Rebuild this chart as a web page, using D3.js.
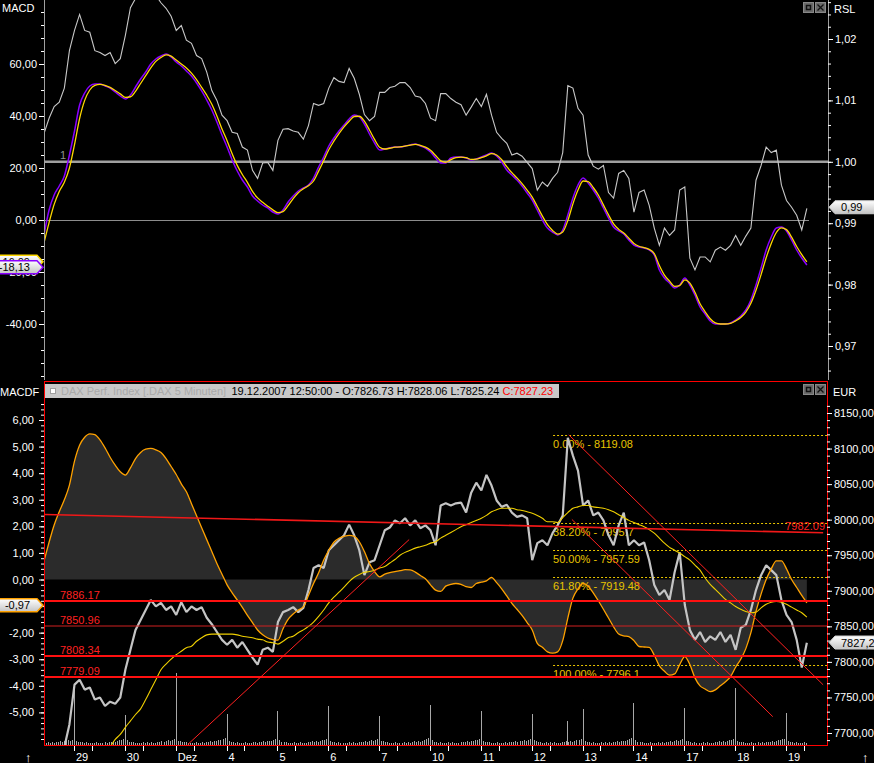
<!DOCTYPE html>
<html><head><meta charset="utf-8">
<script src="https://cdn.jsdelivr.net/npm/d3@7"></script>
<style>
body{margin:0;background:#000;overflow:hidden}
svg{display:block}
text{font-family:"Liberation Sans",Arial,sans-serif;font-size:11px}
</style></head>
<body><svg id="c" width="874" height="763"></svg>
<script>
// ---------- DATA ----------
const tStart = 0.41, tStep = 0.1;   // sample positions in trading-day units (day 1 = 29 Nov)
const dayLabels = ["29","30","Dez","4","5","6","7","10","11","12","13","14","17","18","19"];

const priceValues = [
7660,7660,7660,7665,7680,7712,7768,7775,7761,7764,
7747,7750,7738,7744,7741,7750,7789,7817,7845,7859,
7873,7887,7878,7883,7873,7878,7866,7884,7870,7878,
7873,7877,7862,7853,7842,7831,7824,7831,7820,7828,
7817,7806,7796,7817,7820,7814,7856,7870,7873,7877,
7870,7876,7901,7932,7936,7932,7957,7964,7971,7978,
7993,7978,7957,7922,7940,7943,7964,7985,7989,7999,
7995,8002,7992,7999,7988,7992,7985,7964,8020,8023,
8020,8023,8024,8010,8038,8052,8041,8063,8048,8027,
8018,8021,8010,8004,8006,8002,7943,7967,7971,7964,
7981,7992,8006,8115,8090,8069,8020,8027,8006,8010,
7999,7978,7964,7992,8010,7964,7971,7964,7968,7943,
7908,7894,7901,7887,7926,7954,7880,7845,7831,7842,
7828,7836,7831,7842,7828,7838,7817,7848,7852,7873,
7901,7922,7936,7929,7922,7887,7866,7856,7831,7792,
7827];

const maValues = [
null,null,null,null,null,null,null,null,null,null,
null,null,null,7680,7691,7698,7708,7717,7726,7734,
7747,7761,7775,7789,7797,7804,7810,7815,7820,7822,
7829,7834,7838,7839,7839,7839,7839,7839,7838,7836,
7835,7834,7832,7831,7828,7827,7825,7829,7834,7836,
7841,7845,7850,7856,7864,7873,7883,7891,7898,7905,
7913,7919,7923,7926,7927,7929,7932,7934,7939,7944,
7950,7954,7957,7960,7962,7964,7967,7969,7974,7978,
7982,7986,7990,7993,7996,7999,8002,8006,8011,8014,
8016,8016,8016,8014,8013,8011,8009,8006,8002,7997,
7997,7996,8003,8010,8016,8018,8020,8020,8018,8017,
8016,8014,8011,8007,8003,7999,7996,7993,7990,7986,
7981,7974,7967,7961,7957,7953,7948,7943,7936,7929,
7918,7909,7902,7895,7888,7883,7878,7874,7871,7869,
7870,7876,7881,7884,7885,7884,7881,7877,7873,7869,
7863];

const macdfValues = [
0.7,1.4,2.05,2.55,3.0,3.55,4.45,5.05,5.35,5.48,
5.45,5.25,4.95,4.6,4.3,4.05,3.93,4.2,4.55,4.78,
4.9,4.93,4.88,4.78,4.55,4.25,3.95,3.6,3.3,2.85,
2.4,1.95,1.5,1.05,0.6,0.2,-0.2,-0.5,-0.77,-1.05,
-1.35,-1.62,-1.9,-2.08,-2.2,-2.26,-2.28,-1.85,-1.5,-1.3,
-1.15,-1.03,-0.6,-0.15,0.25,0.73,1.1,1.4,1.55,1.62,
1.66,1.62,1.42,1.05,0.6,0.3,0.1,0.2,0.26,0.3,
0.33,0.37,0.36,0.28,0.15,0.03,-0.2,-0.4,-0.45,-0.25,
-0.18,-0.15,-0.18,-0.27,-0.3,-0.15,-0.1,-0.05,0.08,-0.12,
-0.35,-0.62,-0.9,-1.12,-1.35,-1.62,-1.9,-2.4,-2.55,-2.72,
-2.77,-2.72,-2.3,-1.45,-0.7,-0.35,-0.15,-0.25,-0.5,-0.8,
-1.12,-1.45,-1.78,-2.05,-2.12,-2.15,-2.3,-2.52,-2.54,-2.55,
-2.85,-3.25,-3.45,-3.6,-3.55,-3.2,-2.9,-3.2,-3.7,-4.0,
-4.12,-4.22,-4.15,-4.0,-3.85,-3.65,-3.3,-3.0,-2.6,-2.0,
-1.2,-0.55,0.0,0.4,0.7,0.7,0.4,0.0,-0.3,-0.6,
-0.88];

const rslValues = [
1.0046,1.0071,1.0090,1.0097,1.0120,1.0181,1.0214,1.0240,1.0214,1.0211,
1.0181,1.0178,1.0173,1.0178,1.0160,1.0168,1.0206,1.0251,1.0266,1.0287,
1.0295,1.0287,1.0271,1.0259,1.0250,1.0237,1.0214,1.0222,1.0198,1.0193,
1.0173,1.0168,1.0146,1.0116,1.0100,1.0076,1.0067,1.0048,1.0046,1.0024,
1.0019,0.9986,0.9973,0.9998,0.9999,0.9986,1.0035,1.0053,1.0054,1.0050,
1.0048,1.0037,1.0059,1.0095,1.0092,1.0095,1.0120,1.0137,1.0131,1.0129,
1.0152,1.0136,1.0110,1.0077,1.0067,1.0074,1.0113,1.0113,1.0121,1.0123,
1.0129,1.0129,1.0121,1.0107,1.0105,1.0095,1.0071,1.0067,1.0111,1.0111,
1.0103,1.0097,1.0093,1.0076,1.0089,1.0103,1.0090,1.0110,1.0076,1.0048,
1.0038,1.0030,1.0011,1.0014,1.0009,0.9999,0.9989,0.9954,0.9967,0.9960,
0.9973,0.9983,1.0015,1.0124,1.0120,1.0087,1.0076,1.0011,0.9993,0.9988,
0.9994,0.9950,0.9941,0.9981,0.9986,0.9973,0.9918,0.9950,0.9954,0.9929,
0.9892,0.9864,0.9892,0.9880,0.9889,0.9954,0.9959,0.9843,0.9824,0.9845,
0.9845,0.9837,0.9856,0.9861,0.9856,0.9864,0.9880,0.9864,0.9879,0.9892,
0.9970,0.9994,1.0024,1.0015,1.0019,0.9962,0.9937,0.9926,0.9913,0.9889,
0.9924];

const macdValues = [
-5.77,3.85,9.62,13.08,16.92,25.0,34.23,44.23,48.85,51.54,
52.31,52.31,51.54,50.77,49.23,47.69,46.54,48.08,51.15,54.23,
56.92,60.0,61.92,63.08,63.85,62.69,60.77,59.23,57.31,55.38,
52.69,49.62,46.15,42.31,37.69,32.69,28.08,23.08,18.85,15.38,
12.69,9.23,7.31,5.77,4.62,3.08,2.31,3.85,6.92,9.23,
11.15,12.31,13.46,16.15,20.38,24.23,28.46,31.54,34.23,36.54,
38.85,40.38,39.62,36.92,33.08,29.62,26.92,27.31,27.69,28.08,
28.08,28.46,28.85,29.23,28.46,27.69,26.15,23.85,21.92,21.92,
23.85,24.23,24.23,23.85,23.08,23.46,24.23,25.0,25.77,24.62,
22.31,19.23,17.31,15.38,13.08,10.38,7.69,3.85,0,-3.08,
-4.62,-5.77,-3.85,1.92,8.46,13.46,16.15,14.23,11.54,8.46,
4.62,0.77,-2.69,-4.23,-5.38,-7.69,-9.62,-10.38,-10.77,-11.54,
-13.46,-19.23,-22.31,-24.23,-26.15,-25.0,-22.31,-25.0,-28.85,-33.46,
-36.15,-38.85,-40.0,-40.0,-40.0,-39.62,-38.46,-36.92,-34.62,-30.77,
-25.0,-18.46,-11.54,-6.54,-3.08,-2.69,-4.23,-7.69,-11.54,-14.62,
-17.31];

const signalValues = [
-8.8,-1.0,6.0,11.0,14.5,20.0,29.0,39.0,46.0,50.0,
51.8,52.2,51.8,51.0,49.8,48.5,47.2,47.4,49.5,52.5,
55.5,58.5,61.0,62.5,63.5,63.0,61.5,60.0,58.5,56.5,
54.0,51.0,48.0,44.5,40.0,35.0,30.5,25.5,21.0,17.5,
14.5,11.0,8.5,6.8,5.3,3.9,2.8,3.2,5.5,8.2,
10.5,12.0,13.2,15.0,18.8,22.8,27.0,30.3,33.2,35.8,
38.0,39.8,39.9,38.0,34.6,31.0,28.0,27.3,27.6,28.0,
28.1,28.4,28.8,29.1,28.7,28.0,26.8,24.8,22.8,22.2,
23.2,24.0,24.2,24.0,23.3,23.4,24.0,24.7,25.5,25.0,
23.2,20.5,18.2,16.2,14.0,11.5,8.8,5.2,1.5,-1.8,
-4.0,-5.4,-4.6,-0.2,6.2,11.5,15.0,14.8,12.5,9.6,
5.8,2.0,-1.5,-3.6,-5.0,-7.0,-9.0,-10.1,-10.6,-11.3,
-12.9,-17.5,-21.2,-23.5,-25.5,-25.2,-23.0,-24.3,-27.8,-32.2,
-35.3,-38.0,-39.6,-40.0,-40.0,-39.8,-38.8,-37.5,-35.4,-32.0,
-27.0,-21.0,-14.5,-9.0,-4.8,-3.0,-3.7,-6.6,-10.2,-13.3,
-16.1];

// volume: one digit per 0.04 day, one string per day (day 0 = 28 Nov)
const volumeDays = [
"3333232223223232334344545","0433323222232223233434556","0533322223232322334345456",
"0443332222322323343445567","0433232223222332334344456","0533322232232223343434556",
"0433232222323223334345456","0443322232223232343434567","0533232223232223334344556",
"0433322232223233343445456","0543322323232223343434556","0433232223232323343444567",
"0533322232223232334345456","0443232223232223343434556","0433322232232323334345566",
"04332322232"];
const openVolume = [60,30,72,31,34,39,29,40,34,31,36,42,37,57,32];
const extraVolumeT = [10.69], extraVolumeV = [24];

const supportLevels = [7886.17, 7850.96, 7808.34, 7779.09];
const supportWidths = [2, 1, 2, 2];
const fibPercents = [0, 38.2, 50, 61.8, 100];
const fibValues = [8119.08, 7995.7, 7957.59, 7919.48, 7796.1];
const fibStartT = 10.42;
const trendT0 = [0.41, 3.24, 10.73, 10.79];
const trendP0 = [8007.3, 7684, 8119.3, 8000.3];
const trendT1 = [15.73, 7.59, 15.73, 14.74];
const trendP1 = [7981.5, 7972, 7767.8, 7723];
const trendLabel = "7982.09";

const lastBar = {date:"19.12.2007 12:50:00", o:"7826.73", h:"7828.06", l:"7825.24", c:"7827.23"};
const lastMacd = -18.13, lastSignal = -16.09, lastMacdf = -0.97, lastRsl = 0.9926, lastPrice = 7827.23;

// ---------- SCALES ----------
const svg = d3.select("#c");
const x = d3.scaleLinear().domain([1, 15]).range([74, 786]);
const yMacd = d3.scaleLinear().domain([0, 60]).range([220, 64]);
const yRsl = d3.scaleLinear().domain([0.97, 1.02]).range([346, 39]);
const yMacdf = d3.scaleLinear().domain([0, 6]).range([579.5, 420]);
const yPrice = d3.scaleLinear().domain([7700, 8150]).range([733, 413]);
const yVol = d3.scaleLinear().domain([0, 100]).range([745, 645]);

const fmtC = v => (v < 0 ? "-" : "") + Math.abs(v).toFixed(2).replace(".", ",");
const pts = arr => arr.map((v, i) => ({t: tStart + i * tStep, v}));

const defs = svg.append("defs");
defs.append("clipPath").attr("id","clipTop").append("rect").attr("x",45).attr("y",0).attr("width",783).attr("height",380);
defs.append("clipPath").attr("id","clipBot").append("rect").attr("x",45).attr("y",399).attr("width",782).attr("height",346);
const grad = defs.append("linearGradient").attr("id","boxg").attr("x1",0).attr("y1",0).attr("x2",0).attr("y2",1);
grad.append("stop").attr("offset","0%").attr("stop-color","#ffffff");
grad.append("stop").attr("offset","100%").attr("stop-color","#c4c4c4");

svg.append("rect").attr("width",874).attr("height",763).attr("fill","#000");

// ---------- TOP PANEL ----------
const topG = svg.append("g").attr("clip-path","url(#clipTop)");
topG.append("line").attr("x1",44).attr("x2",828).attr("y1",yRsl(1)).attr("y2",yRsl(1)).attr("stroke","#a0a0a0").attr("stroke-width",2.5);
topG.append("line").attr("x1",44).attr("x2",809).attr("y1",yMacd(0)+0.5).attr("y2",yMacd(0)+0.5).attr("stroke","#8c8c8c");
topG.append("path").datum(pts(rslValues)).attr("fill","none").attr("stroke","#c8c8c8").attr("stroke-width",1.1)
  .attr("d", d3.line().x(d=>x(d.t)).y(d=>yRsl(d.v)));
topG.append("path").datum(pts(macdValues)).attr("fill","none").attr("stroke","#8a00ff").attr("stroke-width",1.5)
  .attr("d", d3.line().curve(d3.curveMonotoneX).x(d=>x(d.t)).y(d=>yMacd(d.v)));
topG.append("path").datum(pts(signalValues)).attr("fill","none").attr("stroke","#ffd800").attr("stroke-width",1.3)
  .attr("d", d3.line().curve(d3.curveMonotoneX).x(d=>x(d.t)).y(d=>yMacd(d.v)));
svg.append("text").attr("x",60).attr("y",159).attr("fill","#909090").text("1");

// axes top
svg.append("line").attr("x1",44.5).attr("x2",44.5).attr("y1",0).attr("y2",380).attr("stroke","#a0a0a0");
svg.append("line").attr("x1",828.5).attr("x2",828.5).attr("y1",0).attr("y2",380).attr("stroke","#a0a0a0");
function styleAxis(g){ g.select(".domain").remove(); g.selectAll("line").attr("stroke","#fff"); g.selectAll("text").attr("fill","#fff").style("font-family","Liberation Sans, Arial").style("font-size","11px"); }
const inTop = s => v => s(v) >= 2 && s(v) <= 378;
const inBot = s => v => s(v) >= 400 && s(v) <= 744;
svg.append("g").attr("transform","translate(44,0)")
  .call(d3.axisLeft(yMacd).tickValues(d3.range(-60, 86, 5).filter(inTop(yMacd))).tickSize(3).tickFormat("")).call(styleAxis);
svg.append("g").attr("transform","translate(44,0)")
  .call(d3.axisLeft(yMacd).tickValues([-40,-20,0,20,40,60]).tickSize(5).tickPadding(2).tickFormat(fmtC)).call(styleAxis);
svg.append("g").attr("transform","translate(828,0)")
  .call(d3.axisRight(yRsl).tickValues(d3.range(0.962, 1.031, 0.002).filter(inTop(yRsl))).tickSize(3).tickFormat("")).call(styleAxis);
svg.append("g").attr("transform","translate(828,0)")
  .call(d3.axisRight(yRsl).tickValues([0.97,0.98,0.99,1.00,1.01,1.02]).tickSize(5).tickPadding(2).tickFormat(fmtC)).call(styleAxis);
svg.append("text").attr("x",2).attr("y",12).attr("fill","#fff").text("MACD");
svg.append("text").attr("x",834).attr("y",13).attr("fill","#fff").text("RSL");

// ---------- BOTTOM PANEL ----------
const botG = svg.append("g").attr("clip-path","url(#clipBot)");
botG.append("path").datum(pts(macdfValues)).attr("fill","#2b2b2b")
  .attr("d", d3.area().x(d=>x(d.t)).y0(yMacdf(0)).y1(d=>yMacdf(d.v)));
// fibonacci
const fibG = botG.append("g");
fibValues.forEach((v,i)=>{
  fibG.append("line").attr("x1",x(fibStartT)).attr("x2",827).attr("y1",Math.round(yPrice(v))+0.5).attr("y2",Math.round(yPrice(v))+0.5)
    .attr("stroke","#e8c400").attr("stroke-dasharray","2,2");
  fibG.append("text").attr("x",x(fibStartT)).attr("y",yPrice(v)+13).attr("fill","#e8c400")
    .text(fibPercents[i].toFixed(2)+"% - "+v);
});
// volume
const vols = [];
volumeDays.forEach((s,d)=>{ for(let i=0;i<s.length;i++){ const t=d+i*0.04; if(t<tStart||t>15.44) continue;
  vols.push({t, v: (i===0 && d>=1) ? openVolume[d-1] : +s[i]}); }});
extraVolumeT.forEach((t,i)=>vols.push({t, v: extraVolumeV[i]}));
botG.append("g").selectAll("line").data(vols).join("line")
  .attr("x1",d=>Math.round(x(d.t))+0.5).attr("x2",d=>Math.round(x(d.t))+0.5)
  .attr("y1",yVol(0)).attr("y2",d=>yVol(d.v)).attr("stroke","#a8a8a8");
// price, MA, MACDF
botG.append("path").datum(pts(priceValues)).attr("fill","none").attr("stroke","#c4c4c4").attr("stroke-width",2.2)
  .attr("stroke-linejoin","bevel")
  .attr("d", d3.line().x(d=>x(d.t)).y(d=>yPrice(d.v)));
botG.append("path").datum(pts(maValues)).attr("fill","none").attr("stroke","#f0d000").attr("stroke-width",1.1)
  .attr("d", d3.line().defined(d=>d.v!=null).curve(d3.curveMonotoneX).x(d=>x(d.t)).y(d=>yPrice(d.v)));
botG.append("path").datum(pts(macdfValues)).attr("fill","none").attr("stroke","#ffa200").attr("stroke-width",1.3)
  .attr("d", d3.line().curve(d3.curveMonotoneX).x(d=>x(d.t)).y(d=>yMacdf(d.v)));
// support / resistance
supportLevels.forEach((v,i)=>{
  const yy = Math.round(yPrice(v));
  botG.append("line").attr("x1",44).attr("x2",827).attr("y1",yy).attr("y2",yy)
    .attr("stroke", supportWidths[i]===2 ? "#ff1010" : "#d02020").attr("stroke-width",supportWidths[i]);
  botG.append("text").attr("x",60).attr("y",yy-2.5).attr("fill","#ff2020").text(v.toFixed(2));
});
trendT0.forEach((t0,i)=>{
  botG.append("line").attr("x1",x(t0)).attr("y1",yPrice(trendP0[i])).attr("x2",x(trendT1[i])).attr("y2",yPrice(trendP1[i]))
    .attr("stroke", i===0 ? "#f01818" : "#ff2020").attr("stroke-width", i===0 ? 1.6 : 1);
});
botG.append("text").attr("x",825).attr("y",530).attr("text-anchor","end").attr("fill","#ff2020").text(trendLabel);

// frame & axes bottom
svg.append("rect").attr("x",44.5).attr("y",381.5).attr("width",783).attr("height",364).attr("fill","none").attr("stroke","#ff0000");
svg.append("g").attr("transform","translate(44,0)")
  .call(d3.axisLeft(yMacdf).tickValues(d3.range(-6.2, 6.81, 0.2).filter(inBot(yMacdf))).tickSize(3).tickFormat("")).call(styleAxis);
svg.append("g").attr("transform","translate(44,0)")
  .call(d3.axisLeft(yMacdf).tickValues([6,5,4,3,2,1,0,-2,-3,-4,-5]).tickSize(5).tickPadding(5).tickFormat(fmtC)).call(styleAxis);
svg.append("g").attr("transform","translate(827,0)")
  .call(d3.axisRight(yPrice).tickValues(d3.range(7680, 8171, 10).filter(inBot(yPrice))).tickSize(3).tickFormat("")).call(styleAxis);
svg.append("g").attr("transform","translate(827,0)")
  .call(d3.axisRight(yPrice).tickValues(d3.range(7700, 8151, 50)).tickSize(5).tickPadding(2).tickFormat(fmtC)).call(styleAxis);
svg.append("text").attr("x",0).attr("y",396).attr("fill","#fff").text("MACDF");
svg.append("text").attr("x",833).attr("y",396).attr("fill","#fff").text("EUR");

// x axis
const dayT = dayLabels.map((d,i)=>i+1);
const tickT = dayT.flatMap(t=>[t, t+0.35]).filter(t=>x(t)<827);
svg.append("g").selectAll("line").data(tickT).join("line")
  .attr("x1",t=>Math.round(x(t))+0.5).attr("x2",t=>Math.round(x(t))+0.5).attr("y1",746).attr("y2",751).attr("stroke","#fff");
svg.append("g").selectAll("text").data(dayLabels).join("text")
  .attr("x",(d,i)=>x(dayT[i])+2).attr("y",761).attr("fill","#fff").text(d=>d);
svg.append("text").attr("x",25).attr("y",762).attr("fill","#fff").style("font-size","13px").text("↑");
svg.append("text").attr("x",862).attr("y",762).attr("fill","#fff").style("font-size","13px").text("↑");

// header bar
svg.append("rect").attr("x",45).attr("y",384).attr("width",514).attr("height",14).attr("fill","#c8c8c8");
svg.append("rect").attr("x",50.5).attr("y",388.5).attr("width",5).attr("height",5).attr("fill","#fff").attr("stroke","#a0a0a0");
svg.append("text").attr("x",61).attr("y",395).attr("fill","#aaaaaa").text("DAX Perf. Index [.DAX  5 Minuten]");
const ht = svg.append("text").attr("x",231.5).attr("y",395).attr("fill","#000");
ht.append("tspan").text(`${lastBar.date} - O:${lastBar.o} H:${lastBar.h} L:${lastBar.l} `);
ht.append("tspan").attr("fill","#ff0000").text(`C:${lastBar.c}`);

// window buttons
function winButtons(y){
  const g = svg.append("g");
  g.append("rect").attr("x",803.5).attr("y",y+0.5).attr("width",10).attr("height",10).attr("fill","#6a6a6a").attr("stroke","#888");
  g.append("rect").attr("x",806.5).attr("y",y+3.5).attr("width",4).attr("height",4).attr("fill","none").attr("stroke","#111").attr("stroke-width",1.5);
  g.append("rect").attr("x",815.5).attr("y",y+0.5).attr("width",10).attr("height",10).attr("fill","#6a6a6a").attr("stroke","#888");
  g.append("path").attr("d",`M817.5,${y+2.5}L823.5,${y+8.5}M823.5,${y+2.5}L817.5,${y+8.5}`).attr("stroke","#111").attr("stroke-width",1.3);
}
winButtons(2); winButtons(384);

// value boxes
function leftBox(yc, stroke, label){
  const h = 13;
  svg.append("path").attr("d",`M-2,${yc-h/2}L37,${yc-h/2}L43,${yc}L37,${yc+h/2}L-2,${yc+h/2}Z`)
    .attr("fill","url(#boxg)").attr("stroke",stroke).attr("stroke-width",1.5);
  svg.append("text").attr("x",30).attr("y",yc+4).attr("text-anchor","end").attr("fill","#000").text(label);
}
function rightBox(yc, stroke, label){
  const h = 13;
  svg.append("path").attr("d",`M876,${yc-h/2}L835,${yc-h/2}L829,${yc}L835,${yc+h/2}L876,${yc+h/2}Z`)
    .attr("fill","url(#boxg)").attr("stroke",stroke).attr("stroke-width",1);
  svg.append("text").attr("x",841).attr("y",yc+4).attr("fill","#000").text(label);
}
leftBox(yMacd(lastSignal), "#ffd800", fmtC(lastSignal));
leftBox(yMacd(lastMacd), "#8a00ff", fmtC(lastMacd));
leftBox(yMacdf(lastMacdf), "#ffa200", fmtC(lastMacdf));
rightBox(yRsl(lastRsl), "#d0d0d0", fmtC(lastRsl));
rightBox(yPrice(lastPrice), "#d0d0d0", fmtC(lastPrice));
</script></body></html>
